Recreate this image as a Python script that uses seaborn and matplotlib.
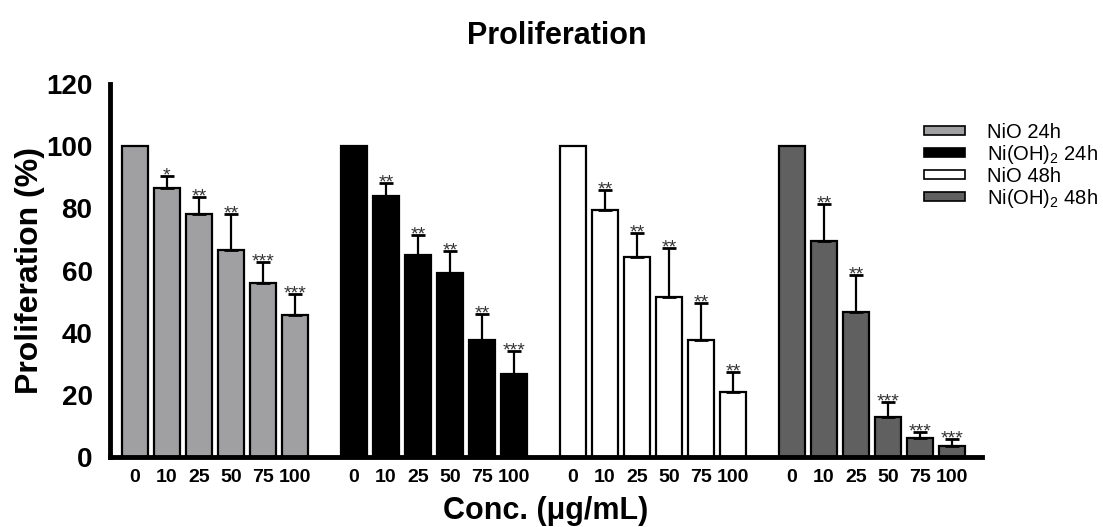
import numpy as np
import pandas as pd
import matplotlib
matplotlib.use('Agg')
import matplotlib.pyplot as plt
import seaborn as sns
from matplotlib.patches import Patch

# data
conc = ['0', '10', '25', '50', '75', '100']
series = ['NiO 24h', 'Ni(OH)$_2$ 24h', 'NiO 48h', 'Ni(OH)$_2$ 48h']

nio_24 = [100, 86.4, 78.1, 66.7, 55.9, 45.6]
nio_24_err = [0, 4.1, 5.6, 11.6, 6.7, 6.8]
nioh_24 = [100, 84.0, 65.1, 59.2, 37.5, 26.6]
nioh_24_err = [0, 4.3, 6.4, 7.1, 8.4, 7.6]
nio_48 = [100, 79.6, 64.2, 51.6, 37.6, 20.8]
nio_48_err = [0, 6.2, 7.9, 15.7, 12.0, 6.4]
nioh_48 = [100, 69.5, 46.7, 12.9, 6.0, 3.5]
nioh_48_err = [0, 11.8, 12.0, 4.7, 2.0, 2.3]

stars_nio_24 = ['', '*', '**', '**', '***', '***']
stars_nioh_24 = ['', '**', '**', '**', '**', '***']
stars_nio_48 = ['', '**', '**', '**', '**', '**']
stars_nioh_48 = ['', '**', '**', '***', '***', '***']

colors = ['#a0a0a3', '#000000', '#ffffff', '#606060']

sns.set_style('white')
plt.rcParams['font.family'] = ['Liberation Sans', 'DejaVu Sans']
plt.rcParams['mathtext.fontset'] = 'custom'
plt.rcParams['mathtext.rm'] = 'Liberation Sans'
plt.rcParams['mathtext.it'] = 'Liberation Sans:italic'
plt.rcParams['mathtext.bf'] = 'Liberation Sans:bold'
for k in ['text.color', 'axes.labelcolor', 'xtick.color', 'ytick.color']:
    plt.rcParams[k] = 'black'

values = [nio_24, nioh_24, nio_48, nioh_48]
errs = [nio_24_err, nioh_24_err, nio_48_err, nioh_48_err]
stars = [stars_nio_24, stars_nioh_24, stars_nio_48, stars_nioh_48]

stride = 6.85
rows = []
for g, name in enumerate(series):
    for i, c in enumerate(conc):
        rows.append({'pos': g * stride + i, 'conc': c, 'series': name,
                     'value': values[g][i], 'err': errs[g][i], 'stars': stars[g][i]})
df = pd.DataFrame(rows)

fig = plt.figure(figsize=(11.03, 5.27), dpi=100)
ax = fig.add_axes([0.0997, 0.1328, 0.7906, 0.7078])

sns.barplot(data=df, x='pos', y='value', hue='series', hue_order=series,
            palette=colors, native_scale=True, dodge=False, width=0.81,
            edgecolor='black', linewidth=1.6, errorbar=None, legend=False, ax=ax)

e = df[df['err'] > 0]
ax.errorbar(e['pos'], e['value'], yerr=[np.zeros(len(e)), e['err']], fmt='none',
            ecolor='black', elinewidth=1.6, capsize=5, capthick=2, zorder=5)

for _, r in e.iterrows():
    ax.annotate(r['stars'], (r['pos'], r['value'] + r['err']), xytext=(0, -3.2),
                textcoords='offset points', ha='center', va='baseline',
                fontsize=14, color='#333333')

ax.set_xlim(-0.78, 3 * stride + 5 + 0.94)
ax.set_ylim(0, 120)
ax.set_yticks(range(0, 121, 20))
ax.set_xticks(df['pos'])
ax.set_xticklabels(df['conc'], fontsize=14, fontweight='bold')
for t in ax.get_yticklabels():
    t.set_fontsize(20)
    t.set_fontweight('bold')

sns.despine(ax=ax)
for s in ['left', 'bottom']:
    ax.spines[s].set_linewidth(3.5)
    ax.spines[s].set_color('black')
ax.tick_params(axis='y', length=9.5, width=3.2, pad=3, color='black')
ax.tick_params(axis='x', length=3.5, width=3.5, pad=5, color='black')

ax.set_ylabel('Proliferation (%)', fontsize=23, fontweight='bold', labelpad=1)
ax.set_xlabel('Conc. (\u03bcg/mL)', fontsize=22, fontweight='bold', labelpad=7)
fig.suptitle('Proliferation', x=0.505, y=0.932, va='center', fontsize=22, fontweight='bold')

handles = [Patch(facecolor=c, edgecolor='black', linewidth=1.2) for c in colors]
fig.legend(handles, series, loc='upper left', bbox_to_anchor=(0.838, 0.767),
           frameon=False, fontsize=14.5, handlelength=2.0, handleheight=0.3,
           handletextpad=1.1, labelspacing=0.05, borderpad=0, borderaxespad=0)

fig.savefig('out.png', dpi=100)
